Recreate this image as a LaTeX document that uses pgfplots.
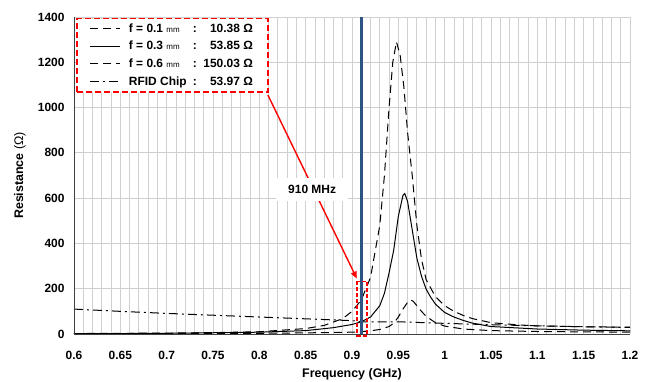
\documentclass[border=0pt]{standalone}
\usepackage{pgfplots}
\pgfplotsset{compat=1.18}
\usepackage{pgfplotstable}
\usepackage{fontspec}
\setmainfont{Liberation Sans}
\usetikzlibrary{arrows.meta}

\definecolor{gridgray}{RGB}{208,208,208}
\definecolor{navy}{RGB}{46,84,132}

\pgfplotstableread{
f r
0.60 0.5
0.70 1
0.80 3
0.85 5
0.90 8
0.91 10.4
0.92 14
0.93 20
0.94 33
0.945 48
0.95 75
0.955 110
0.96 140
0.963 150
0.966 145
0.97 125
0.975 100
0.98 78
0.99 50
1.00 35
1.02 22
1.05 15
1.10 11
1.20 8
}\tabA

\pgfplotstableread{
f r
0.60 1
0.70 3
0.80 8
0.85 15
0.88 28
0.90 42
0.91 54
0.92 75
0.93 125
0.935 180
0.94 270
0.945 370
0.95 520
0.955 612
0.957 620
0.96 585
0.965 460
0.97 335
0.975 255
0.98 198
0.985 162
0.99 132
1.00 95
1.01 75
1.02 60
1.03 48
1.05 33
1.10 22
1.15 17
1.20 14
}\tabB

\pgfplotstableread{
f r
0.60 2
0.65 3
0.70 4
0.75 6
0.80 10
0.85 24
0.87 38
0.89 68
0.90 100
0.91 150
0.92 250
0.93 480
0.935 700
0.94 1000
0.944 1200
0.948 1290
0.952 1230
0.956 1090
0.96 890
0.965 700
0.97 480
0.975 330
0.98 240
0.99 165
1.00 125
1.01 100
1.02 82
1.03 68
1.05 50
1.08 40
1.10 36
1.15 32
1.20 30
}\tabC

\pgfplotstableread{
f r
0.60 110
0.65 100
0.70 91
0.75 83
0.80 75
0.85 67
0.90 59
0.91 54
0.95 54
1.00 47
1.05 41
1.10 36
1.15 32
1.20 29
}\tabD

\begin{document}
\begin{tikzpicture}
\begin{axis}[
  at={(0,0)}, anchor=south west,
  scale only axis, width=556bp, height=317bp,
  xmin=0.6, xmax=1.2, ymin=0, ymax=1400,
  clip=false,
  axis line style={draw=none},
  xtick={0.6,0.65,0.7,0.75,0.8,0.85,0.9,0.95,1,1.05,1.1,1.15,1.2},
  xticklabels={0.6,0.65,0.7,0.75,0.8,0.85,0.9,0.95,1,1.05,1.1,1.15,1.2},
  minor x tick num=4,
  ytick={0,200,400,600,800,1000,1200,1400},
  yticklabels={0,200,400,600,800,1000,1200,1400},
  major tick length=0pt, minor tick length=0pt,
  grid=both,
  major grid style={gridgray, line width=0.8bp},
  minor grid style={gridgray, line width=0.8bp},
  tick label style={font=\fontsize{12}{14}\selectfont\bfseries},
  /pgf/number format/assume math mode=true,
  xticklabel style={anchor=center, yshift=-21bp},
  yticklabel style={anchor=east, xshift=-6bp},
  xlabel={\bfseries Frequency (GHz)},
  ylabel={\bfseries Resistance \mdseries(Ω)},
  label style={font=\fontsize{12.5}{14}\selectfont},
  xlabel style={at={(axis description cs:0.5,0)}, anchor=center, yshift=-40bp},
  ylabel style={at={(axis description cs:0,0.5)}, anchor=center, yshift=54bp},
  legend style={at={(axis cs:0.6022,1397)}, anchor=north west,
    draw=red, line width=1.8bp, dash pattern=on 6bp off 3bp, fill=white,
    font=\fontsize{12}{14}\selectfont\bfseries,
    row sep=3.5bp, inner xsep=13bp, inner ysep=3bp},
  legend cell align=left,
  legend image code/.code={\draw[#1, line width=1bp] (0bp,0bp) -- (30bp,0bp);},
]
\addplot[black, line width=1bp, dash pattern=on 8bp off 5bp] table[x=f,y=r] {\tabA};
\addlegendentry{\hspace*{6bp}\makebox[64bp][l]{f = 0.1 {\mdseries\footnotesize mm}}:\makebox[56bp][r]{10.38 Ω}}
\addplot[black, line width=1bp] table[x=f,y=r] {\tabB};
\addlegendentry{\hspace*{6bp}\makebox[64bp][l]{f = 0.3 {\mdseries\footnotesize mm}}:\makebox[56bp][r]{53.85 Ω}}
\addplot[black, line width=1bp, dash pattern=on 8bp off 5bp] table[x=f,y=r] {\tabC};
\addlegendentry{\hspace*{6bp}\makebox[64bp][l]{f = 0.6 {\mdseries\footnotesize mm}}:\makebox[56bp][r]{150.03 Ω}}
\addplot[black, line width=1bp, dash pattern=on 9bp off 4bp on 2bp off 4bp] table[x=f,y=r] {\tabD};
\addlegendentry{\hspace*{6bp}\makebox[64bp][l]{RFID Chip}:\makebox[56bp][r]{53.97 Ω}}

\addplot[navy, line width=2.6bp, forget plot] coordinates {(0.91,0) (0.91,1400)};

% axis lines
\draw[black!75, line width=0.8bp] (axis cs:0.6,1400) -- (axis cs:0.6,0) -- (axis cs:1.2,0);

% red annotation
\draw[red, line width=1.4bp, -{Triangle[length=7bp,width=6bp]}] (axis cs:0.8093,1055) -- (axis cs:0.9052,245);
\node[fill=white, inner sep=0pt, minimum width=72bp, minimum height=23bp, font=\fontsize{12}{14}\selectfont\bfseries] at (axis cs:0.857,638) {910 MHz};
\draw[red, line width=1.6bp, dash pattern=on 4bp off 2bp] (axis cs:0.9054,232) rectangle (axis cs:0.9162,-8);
\end{axis}
\pgfresetboundingbox
\path[use as bounding box] (-74bp,-48bp) rectangle (580bp,334bp);
\end{tikzpicture}
\end{document}
